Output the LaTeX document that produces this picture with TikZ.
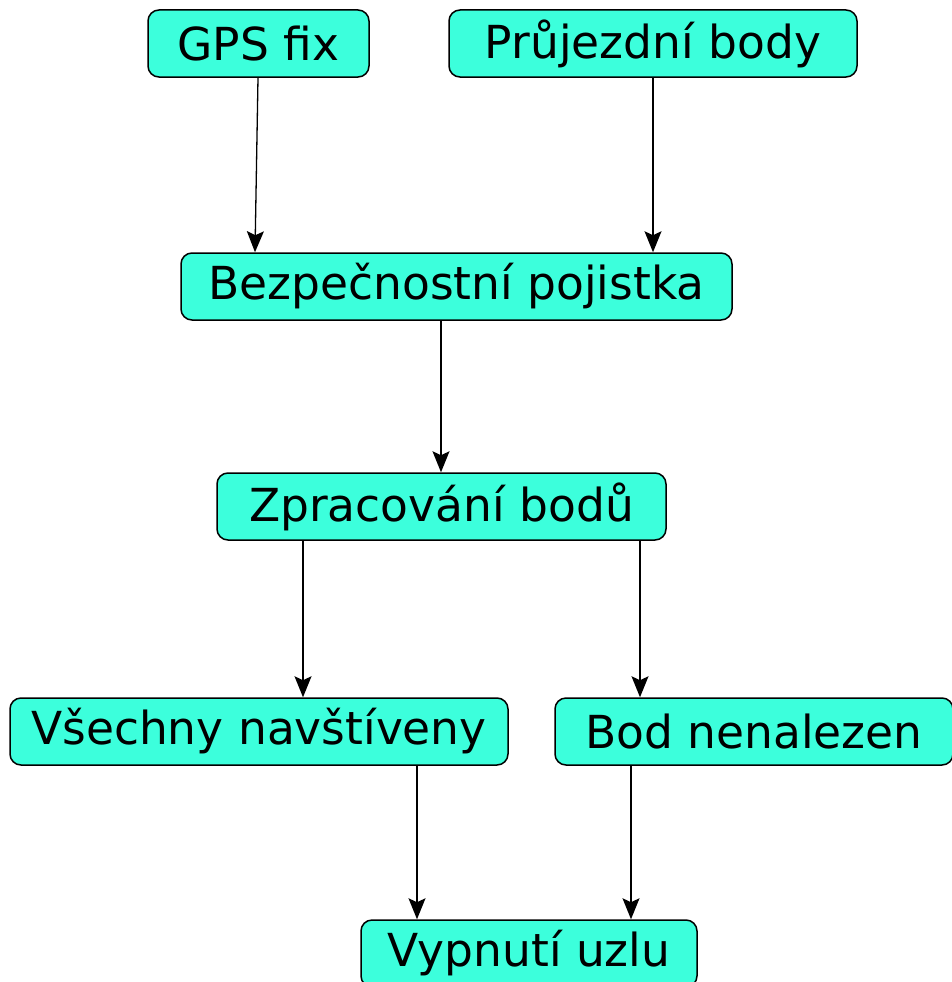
\documentclass[tikz,border=0pt]{standalone}
\usepackage{fontspec}
\setmainfont{DejaVu Sans}
\usetikzlibrary{arrows.meta}
\definecolor{boxfill}{RGB}{60,255,220}
\begin{document}
\begin{tikzpicture}[x=1pt,y=-1pt,
  box/.style={draw=black, line width=1.5pt, fill=boxfill, rounded corners=11pt,
    inner sep=0pt, font=\fontsize{45.5}{54}\selectfont, minimum height=67pt},
  arr/.style={line width=1.3pt, -{Stealth[length=21pt,width=17pt,inset=4pt]}}]
\useasboundingbox (0,0) rectangle (951,982);
\node[box, minimum width=221pt] (gps) at (258.5,43.5) {GPS fix};
\node[box, minimum width=408pt] (pru) at (653,43.5) {Průjezdní body};
\node[box, minimum width=551pt] (bez) at (456.5,286.5) {Bezpečnostní pojistka};
\node[box, minimum width=449pt] (zpr) at (441.5,506.5) {Zpracování bodů};
\node[box, minimum width=498pt] (vse) at (259,731.5) {Všechny navštíveny};
\node[box, minimum width=398pt] (bod) at (754,731.5) {Bod nenalezen};
\node[box, minimum width=336pt] (vyp) at (529,953.5) {Vypnutí uzlu};
\coordinate (g1) at (258,77);
\draw[arr] (gps.south -| g1) -- (bez.north -| 255,0);
\draw[arr] (pru.south -| 653,0) -- (bez.north -| 653,0);
\draw[arr] (bez.south -| 441,0) -- (zpr.north -| 441,0);
\draw[arr] (zpr.south -| 303,0) -- (vse.north -| 303,0);
\draw[arr] (zpr.south -| 640,0) -- (bod.north -| 640,0);
\draw[arr] (vse.south -| 417,0) -- (vyp.north -| 417,0);
\draw[arr] (bod.south -| 631,0) -- (vyp.north -| 631,0);
\end{tikzpicture}
\end{document}
